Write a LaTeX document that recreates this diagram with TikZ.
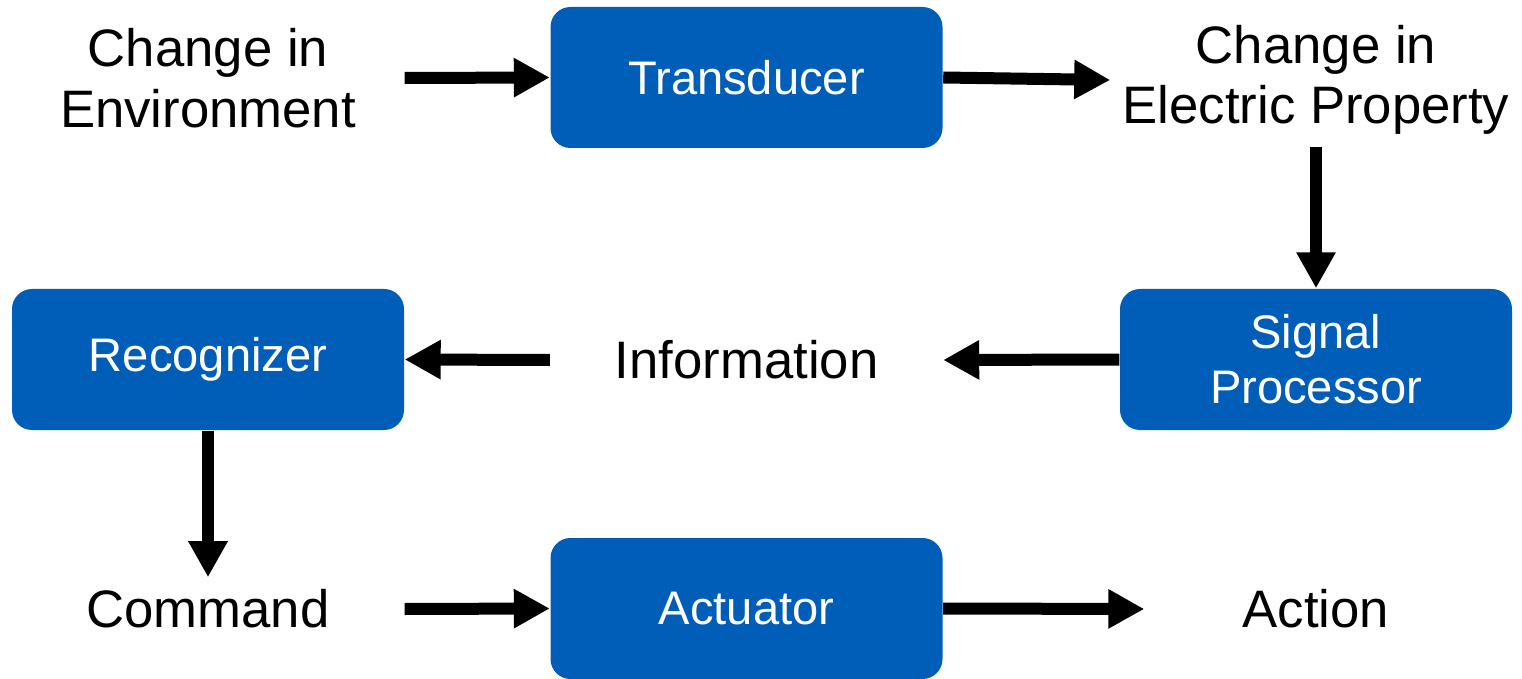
\documentclass[tikz,border=0pt]{standalone}
\usepackage{fontspec}
\setmainfont{Liberation Sans}
\usetikzlibrary{arrows.meta}
\definecolor{boxblue}{RGB}{0,94,185}

\begin{document}
\begin{tikzpicture}[>={Triangle[length=0.36cm,width=0.37cm]},
    block/.style={fill=boxblue, rounded corners=0.2cm, minimum width=3.92cm,
        minimum height=1.41cm, text=white, align=center,
        font=\fontsize{13.4}{15.6}\selectfont},
    plaintext/.style={minimum width=3.92cm, align=center,
        font=\fontsize{15}{17.2}\selectfont},
    flow/.style={->, line width=0.12cm}]
        % Parameters
        \def\colL{2.08}
        \def\colM{7.465}
        \def\colR{13.16}

        \useasboundingbox (0,0) rectangle (15.22,-6.79);

        % Top row
        \node[plaintext] (env) at (\colL,-0.78) {Change in\\Environment};
        \node[block] (trans) at (\colM,-0.775) {Transducer};
        \node[plaintext] (elec) at (\colR,-0.8) {Change in\\Electric Property};

        % Middle row
        \node[block] (recog) at (\colL,-3.595) {Recognizer};
        \node[plaintext] (info) at (\colM,-3.6) {Information};
        \node[block] (sig) at (\colR,-3.595) {Signal\\Processor};

        % Bottom row
        \node[plaintext] (cmd) at (\colL,-6.09) {Command};
        \node[block] (act) at (\colM,-6.085) {Actuator};
        \node[plaintext, minimum width=3.42cm] (action) at (\colR,-6.09) {Action};

        % Arrows
        \draw[flow] (env.east) -- (trans.west);
        \draw[flow] (trans.east) -- (elec.west);
        \draw[flow] (elec.south) -- (sig.north);
        \draw[flow] (sig.west) -- (info.east);
        \draw[flow] (info.west) -- (recog.east);
        \draw[flow] (recog.south) -- (cmd.north);
        \draw[flow] (cmd.east) -- (act.west);
        \draw[flow] (act.east) -- (action.west);
    \end{tikzpicture}
\end{document}
